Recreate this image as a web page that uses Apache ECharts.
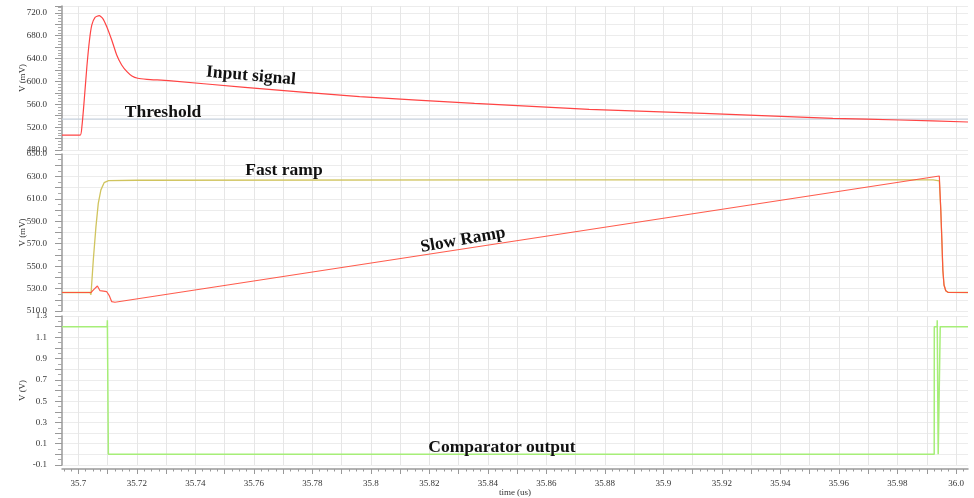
<!DOCTYPE html>
<html lang="en">
<head>
    <meta charset="UTF-8">
    <title>Comparator transient</title>
    <script src="https://cdn.jsdelivr.net/npm/echarts@6/dist/echarts.min.js"></script>
    <style>
        html, body { margin: 0; padding: 0; background: #fff; }
        #chart { width: 974px; height: 498px; }
    </style>
</head>
<body>
    <div id="chart"></div>
    <script>
        // time range of the plot (us)
        var tStart = 35.6944;
        var tEnd = 36.0041;

        // x tick labels
        var xLabelValues = [35.7, 35.72, 35.74, 35.76, 35.78, 35.8, 35.82, 35.84, 35.86, 35.88, 35.9, 35.92, 35.94, 35.96, 35.98, 36.0];
        var xLabelText = ['35.7', '35.72', '35.74', '35.76', '35.78', '35.8', '35.82', '35.84', '35.86', '35.88', '35.9', '35.92', '35.94', '35.96', '35.98', '36.0'];

        // panel 1: input signal (mV) and threshold
        var inputTime = [35.6944, 35.7006, 35.7012, 35.7020, 35.7029, 35.7038, 35.7046, 35.7057, 35.7071, 35.7083, 35.7097, 35.7114, 35.7131, 35.7148, 35.7166, 35.7183, 35.7203, 35.7234, 35.7308, 35.7569, 35.7961, 35.8354, 35.8746, 35.9138, 35.9579, 35.9808, 36.0041];
        var inputMv = [506, 506, 520.8, 567.5, 625.8, 672.5, 698.8, 712.2, 715, 710.5, 695.8, 672.5, 646.3, 628.8, 617, 609.5, 605.5, 603.7, 601.3, 589.7, 573.3, 561.7, 551.2, 544.2, 535.4, 532.5, 529];
        var thresholdTime = [35.6944, 36.0041];
        var thresholdMv = [534, 534];

        // panel 2: fast and slow ramps (mV)
        var fastTime = [35.6944, 35.7040, 35.7043, 35.7051, 35.7060, 35.7068, 35.7077, 35.7088, 35.7103, 35.7200, 35.8500, 35.9922, 35.9943, 35.9948, 35.9952, 35.9955, 35.9959, 35.9965, 35.9973, 36.0041];
        var fastMv = [526.5, 526.5, 524.5, 555.5, 585, 606, 618, 624.4, 626.2, 626.6, 627, 627, 626, 600, 570.4, 546.6, 533.2, 528.1, 526.6, 526.5];
        var slowTime = [35.6944, 35.7043, 35.7054, 35.7065, 35.7074, 35.7097, 35.7105, 35.7114, 35.7125, 35.9943, 35.9948, 35.9952, 35.9955, 35.9959, 35.9965, 35.9973, 36.0041];
        var slowMv = [526.5, 526.5, 529.5, 532.3, 528.1, 527.2, 524, 518.3, 517.8, 630.4, 600, 570.4, 546.6, 533.2, 528.1, 526.6, 526.5];

        // panel 3: comparator output (V)
        var compTime = [35.6944, 35.70985, 35.70991, 35.71025, 35.99255, 35.99258, 35.99355, 35.99358, 35.99391, 35.99458, 35.99461, 36.0041];
        var compV = [1.2, 1.2, 1.26, 0, 0, 1.2, 1.2, 1.26, 0, 0, 1.2, 1.2];

        function pairs(xs, ys) {
            return xs.map(function (x, i) { return [x, ys[i]]; });
        }

        // tick positions every 0.01 and every 0.0025
        var majorTicks = [];
        for (var i = 0; i <= 32; i++) majorTicks.push(Math.round((35.69 + i * 0.01) * 10000) / 10000);
        var minorTicks = [];
        for (var j = 0; j <= 128; j++) minorTicks.push(Math.round((35.69 + j * 0.0025) * 10000) / 10000);

        var serif = 'Liberation Serif';

        function xAxisFor(grid, showLabels) {
            return {
                type: 'value', gridIndex: grid, min: tStart, max: tEnd,
                position: 'bottom',
                offset: showLabels ? 4 : 0,
                axisLine: { show: showLabels, onZero: false, lineStyle: { color: '#999', width: 1.5 } },
                axisTick: { show: showLabels, customValues: majorTicks, length: 5, lineStyle: { color: '#999' } },
                axisLabel: {
                    show: showLabels, customValues: xLabelValues, margin: 10,
                    fontFamily: serif, fontSize: 9, color: '#333',
                    formatter: function (v) {
                        for (var k = 0; k < xLabelValues.length; k++) {
                            if (Math.abs(xLabelValues[k] - v) < 1e-6) return xLabelText[k];
                        }
                        return '';
                    }
                },
                splitLine: { show: true, lineStyle: { color: '#e6e6e6', width: 1 } },
                name: showLabels ? 'time (us)' : '',
                nameLocation: 'middle', nameGap: 19, nameMoveOverlap: false,
                nameTextStyle: { fontFamily: serif, fontSize: 9, color: '#333' }
            };
        }

        function yAxisFor(grid, min, max, step, name, keep, minorSplit) {
            return {
                type: 'value', gridIndex: grid, min: min, max: max, interval: step,
                name: name, nameLocation: 'middle', nameGap: 35, nameMoveOverlap: false,
                nameTextStyle: { fontFamily: serif, fontSize: 9, color: '#333' },
                axisLine: { show: true, onZero: false, lineStyle: { color: '#999', width: 1.5 } },
                axisTick: { show: true, length: 7, lineStyle: { color: '#999' } },
                minorTick: { show: true, splitNumber: minorSplit, length: 4, lineStyle: { color: '#aaa' } },
                axisLabel: {
                    margin: 15,
                    fontFamily: serif, fontSize: 9, color: '#333',
                    formatter: function (v) { return keep(v) ? v.toFixed(1) : ''; }
                },
                splitLine: { show: true, lineStyle: { color: '#ececec', width: 1 } }
            };
        }

        var chart = echarts.init(document.getElementById('chart'));

        var annotations = [
            { text: 'Input signal', x: 251, y: 76, rot: -5 },
            { text: 'Threshold', x: 163, y: 112, rot: 0 },
            { text: 'Fast ramp', x: 284, y: 170, rot: 0 },
            { text: 'Slow Ramp', x: 463, y: 240, rot: 10 },
            { text: 'Comparator output', x: 502, y: 447, rot: 0 }
        ];

        var option = {
            animation: false,
            backgroundColor: '#fff',
            grid: [
                { left: 62, right: 6, top: 6, bottom: 348 },
                { left: 62, right: 6, top: 154, bottom: 187 },
                { left: 62, right: 6, top: 316, bottom: 30.5 }
            ],
            xAxis: [
                xAxisFor(0, false),
                xAxisFor(1, false),
                xAxisFor(2, true),
                {
                    type: 'value', gridIndex: 2, min: tStart, max: tEnd, position: 'bottom', offset: 4,
                    axisLine: { show: false, onZero: false },
                    axisTick: { show: true, customValues: minorTicks, length: 2.5, lineStyle: { color: '#999' } },
                    axisLabel: { show: false },
                    splitLine: { show: false }
                }
            ],
            yAxis: [
                yAxisFor(0, 480, 732, 20, 'V (mV)', function (v) { return Math.round(v) % 40 === 0; }, 4),
                yAxisFor(1, 510, 650, 10, 'V (mV)', function (v) { return Math.round(v) % 20 === 10; }, 2),
                yAxisFor(2, -0.1, 1.3, 0.1, 'V (V)', function (v) { return Math.abs(Math.round(v * 10)) % 2 === 1; }, 2)
            ],
            series: [
                {
                    name: 'Threshold', type: 'line', xAxisIndex: 0, yAxisIndex: 0,
                    data: pairs(thresholdTime, thresholdMv), showSymbol: false,
                    lineStyle: { color: '#c6d0dc', width: 1.2 }
                },
                {
                    name: 'Input signal', type: 'line', xAxisIndex: 0, yAxisIndex: 0,
                    data: pairs(inputTime, inputMv), showSymbol: false, smooth: 0.2,
                    lineStyle: { color: '#ff4444', width: 1.2 }
                },
                {
                    name: 'Fast ramp', type: 'line', xAxisIndex: 1, yAxisIndex: 1,
                    data: pairs(fastTime, fastMv), showSymbol: false,
                    lineStyle: { color: '#d0c45e', width: 1.3 }
                },
                {
                    name: 'Slow Ramp', type: 'line', xAxisIndex: 1, yAxisIndex: 1,
                    data: pairs(slowTime, slowMv), showSymbol: false,
                    lineStyle: { color: '#ff4a3a', width: 1.2, opacity: 0.9 }
                },
                {
                    name: 'Comparator output', type: 'line', xAxisIndex: 2, yAxisIndex: 2,
                    data: pairs(compTime, compV), showSymbol: false,
                    lineStyle: { color: '#a6ee78', width: 1.5 }
                }
            ],
            graphic: annotations.map(function (a) {
                return {
                    type: 'text', x: a.x, y: a.y, rotation: a.rot * Math.PI / 180, z: 100,
                    style: {
                        text: a.text, fill: '#111', align: 'center', verticalAlign: 'middle',
                        font: 'bold 17.5px "Liberation Serif"'
                    }
                };
            })
        };

        chart.setOption(option);
    </script>
</body>
</html>
